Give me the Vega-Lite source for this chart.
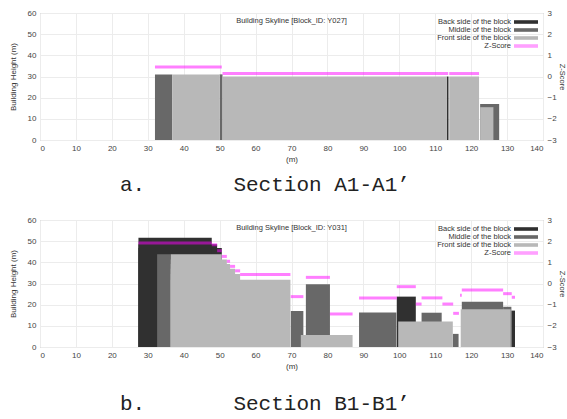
{
  "$schema": "https://vega.github.io/schema/vega-lite/v6.json",
  "padding": {"left": 8, "top": 8, "right": 0, "bottom": 0},
  "config": {
    "font": "Liberation Sans",
    "view": {"stroke": "#a8a8a8", "strokeWidth": 1},
    "axis": {"labelFontSize": 8, "labelColor": "#444444", "titleFontSize": 8, "titleFontWeight": "normal", "titleColor": "#333333", "ticks": false, "domain": false, "gridColor": "#ececec", "labelPadding": 4, "labelOverlap": false},
    "legend": {"orient": "top-right", "offset": 5, "padding": 0, "symbolType": "M-3,-0.45L3,-0.45L3,0.45L-3,0.45Z", "symbolSize": 64, "symbolStrokeWidth": 0, "labelAlign": "right", "labelOffset": -19, "labelFontSize": 7.5, "labelColor": "#333333", "rowPadding": 0, "labelLimit": 200},
    "concat": {"spacing": 19}
  },
  "datasets": {
    "bldA": [
      {"x": 113.2, "x2": 113.7, "h": 30, "side": "Back side of the block"},
      {"x": 32.0, "x2": 36.8, "h": 31, "side": "Middle of the block"},
      {"x": 50.0, "x2": 50.8, "h": 31, "side": "Middle of the block"},
      {"x": 122.5, "x2": 127.8, "h": 17, "side": "Middle of the block"},
      {"x": 36.8, "x2": 50.0, "h": 31, "side": "Front side of the block"},
      {"x": 50.8, "x2": 113.2, "h": 30, "side": "Front side of the block"},
      {"x": 113.9, "x2": 122.2, "h": 30, "side": "Front side of the block"},
      {"x": 122.5, "x2": 126.2, "h": 15.5, "side": "Front side of the block"}
    ],
    "zA": [
      {"x": 32.0, "x2": 50.6, "z": 0.45},
      {"x": 50.8, "x2": 113.6, "z": 0.14},
      {"x": 113.9, "x2": 122.2, "z": 0.14}
    ],
    "bldB": [
      {"x": 27.4, "x2": 50.6, "h": 46.8, "side": "Back side of the block"},
      {"x": 27.4, "x2": 49.3, "h": 48.6, "side": "Back side of the block"},
      {"x": 27.4, "x2": 47.8, "h": 51.6, "side": "Back side of the block"},
      {"x": 99.3, "x2": 104.6, "h": 23.8, "side": "Back side of the block"},
      {"x": 131.2, "x2": 132.2, "h": 17.2, "side": "Back side of the block"},
      {"x": 32.6, "x2": 36.4, "h": 43.8, "side": "Middle of the block"},
      {"x": 69.8, "x2": 73.3, "h": 17.0, "side": "Middle of the block"},
      {"x": 74.0, "x2": 80.7, "h": 29.7, "side": "Middle of the block"},
      {"x": 88.8, "x2": 99.2, "h": 16.3, "side": "Middle of the block"},
      {"x": 106.2, "x2": 111.8, "h": 16.2, "side": "Middle of the block"},
      {"x": 114.9, "x2": 116.5, "h": 6.2, "side": "Middle of the block"},
      {"x": 117.4, "x2": 128.9, "h": 21.4, "side": "Middle of the block"},
      {"x": 128.9, "x2": 131.2, "h": 19.0, "side": "Middle of the block"},
      {"x": 36.4, "x2": 69.7, "h": 31.8, "side": "Front side of the block"},
      {"x": 36.4, "x2": 55.7, "h": 34.5, "side": "Front side of the block"},
      {"x": 36.4, "x2": 54.3, "h": 37.0, "side": "Front side of the block"},
      {"x": 36.4, "x2": 52.9, "h": 39.2, "side": "Front side of the block"},
      {"x": 36.4, "x2": 52.0, "h": 41.3, "side": "Front side of the block"},
      {"x": 36.4, "x2": 50.6, "h": 43.8, "side": "Front side of the block"},
      {"x": 72.6, "x2": 87.0, "h": 5.7, "side": "Front side of the block"},
      {"x": 99.7, "x2": 114.9, "h": 12.0, "side": "Front side of the block"},
      {"x": 117.1, "x2": 131.0, "h": 17.8, "side": "Front side of the block"}
    ],
    "zB": [
      {"x": 27.4, "x2": 47.8, "z": 1.91},
      {"x": 47.8, "x2": 49.3, "z": 1.83},
      {"x": 49.3, "x2": 50.6, "z": 1.55},
      {"x": 50.6, "x2": 52.0, "z": 1.28},
      {"x": 52.0, "x2": 52.9, "z": 1.05},
      {"x": 52.9, "x2": 54.3, "z": 0.81},
      {"x": 54.3, "x2": 55.7, "z": 0.60},
      {"x": 55.7, "x2": 69.7, "z": 0.43},
      {"x": 69.8, "x2": 73.3, "z": -0.62},
      {"x": 74.0, "x2": 80.7, "z": 0.29},
      {"x": 80.7, "x2": 87.0, "z": -1.44},
      {"x": 88.8, "x2": 99.3, "z": -0.68},
      {"x": 99.3, "x2": 104.6, "z": -0.15},
      {"x": 104.6, "x2": 106.2, "z": -0.97},
      {"x": 106.2, "x2": 112.0, "z": -0.68},
      {"x": 112.0, "x2": 115.0, "z": -0.97},
      {"x": 115.0, "x2": 116.6, "z": -1.41},
      {"x": 116.9, "x2": 117.4, "z": -0.55},
      {"x": 117.4, "x2": 128.9, "z": -0.31},
      {"x": 128.9, "x2": 131.3, "z": -0.48},
      {"x": 131.3, "x2": 132.2, "z": -0.65}
    ]
  },
  "resolve": {"scale": {"x": "independent", "y": "independent", "color": "independent"}, "legend": {"color": "independent"}},
  "vconcat": [
    {
      "width": 503,
      "height": 127,
      "title": {"text": "a.\u00a0\u00a0\u00a0\u00a0\u00a0\u00a0\u00a0Section A1-A1’", "orient": "bottom", "anchor": "start", "frame": "group", "dx": 80, "offset": 11, "font": "Liberation Mono", "fontSize": 21, "fontWeight": "normal", "color": "#222222"},
      "resolve": {"scale": {"y": "independent"}},
      "layer": [
        {
          "layer": [
            {
              "data": {"name": "bldA"},
              "mark": {"type": "rect"},
              "encoding": {
                "x": {"field": "x", "type": "quantitative", "scale": {"domain": [0, 140], "nice": false}, "axis": {"title": "(m)", "tickCount": 14, "grid": true, "titlePadding": 3}},
                "x2": {"field": "x2"},
                "y": {"field": "h", "type": "quantitative", "scale": {"domain": [0, 60], "nice": false}, "axis": {"title": "Building Height (m)", "tickCount": 6, "grid": true, "titlePadding": 10}},
                "y2": {"datum": 0},
                "color": {"field": "side", "type": "nominal", "scale": {"domain": ["Back side of the block", "Middle of the block", "Front side of the block", "Z-Score"], "range": ["#303030", "#686868", "#b8b8b8", "#ffa0ff"]}, "legend": {"title": null}}
              }
            },
            {
              "data": {"values": [{}]},
              "mark": {"type": "text", "text": "Building Skyline [Block_ID: Y027]", "fontSize": 7.5, "color": "#333333"},
              "encoding": {"x": {"datum": 70, "type": "quantitative"}, "y": {"datum": 56.4, "type": "quantitative"}}
            }
          ]
        },
        {
          "data": {"name": "zA"},
          "mark": {"type": "rule", "color": "#ff00ff", "opacity": 0.5, "strokeWidth": 3},
          "encoding": {
            "x": {"field": "x", "type": "quantitative", "axis": {"title": "(m)", "tickCount": 14, "grid": true, "titlePadding": 3}},
            "x2": {"field": "x2"},
            "y": {"field": "z", "type": "quantitative", "scale": {"domain": [-3, 3], "nice": false}, "axis": {"orient": "right", "title": "Z-Score", "titleFontSize": 7.5, "values": [-3,-2,-1,0,1,2,3], "grid": false, "titlePadding": 1}}
          }
        }
      ]
    },
    {
      "width": 503,
      "height": 127,
      "title": {"text": "b.\u00a0\u00a0\u00a0\u00a0\u00a0\u00a0\u00a0Section B1-B1’", "orient": "bottom", "anchor": "start", "frame": "group", "dx": 80, "offset": 23, "font": "Liberation Mono", "fontSize": 21, "fontWeight": "normal", "color": "#222222"},
      "resolve": {"scale": {"y": "independent"}},
      "layer": [
        {
          "layer": [
            {
              "data": {"name": "bldB"},
              "mark": {"type": "rect"},
              "encoding": {
                "x": {"field": "x", "type": "quantitative", "scale": {"domain": [0, 140], "nice": false}, "axis": {"title": "(m)", "tickCount": 14, "grid": true, "titlePadding": 3}},
                "x2": {"field": "x2"},
                "y": {"field": "h", "type": "quantitative", "scale": {"domain": [0, 60], "nice": false}, "axis": {"title": "Building Height (m)", "tickCount": 6, "grid": true, "titlePadding": 10}},
                "y2": {"datum": 0},
                "color": {"field": "side", "type": "nominal", "scale": {"domain": ["Back side of the block", "Middle of the block", "Front side of the block", "Z-Score"], "range": ["#303030", "#686868", "#b8b8b8", "#ffa0ff"]}, "legend": {"title": null}}
              }
            },
            {
              "data": {"values": [{}]},
              "mark": {"type": "text", "text": "Building Skyline [Block_ID: Y031]", "fontSize": 7.5, "color": "#333333"},
              "encoding": {"x": {"datum": 70, "type": "quantitative"}, "y": {"datum": 56.4, "type": "quantitative"}}
            }
          ]
        },
        {
          "data": {"name": "zB"},
          "mark": {"type": "rule", "color": "#ff00ff", "opacity": 0.5, "strokeWidth": 3},
          "encoding": {
            "x": {"field": "x", "type": "quantitative", "axis": {"title": "(m)", "tickCount": 14, "grid": true, "titlePadding": 3}},
            "x2": {"field": "x2"},
            "y": {"field": "z", "type": "quantitative", "scale": {"domain": [-3, 3], "nice": false}, "axis": {"orient": "right", "title": "Z-Score", "titleFontSize": 7.5, "values": [-3,-2,-1,0,1,2,3], "grid": false, "titlePadding": 1}}
          }
        }
      ]
    }
  ]
}
